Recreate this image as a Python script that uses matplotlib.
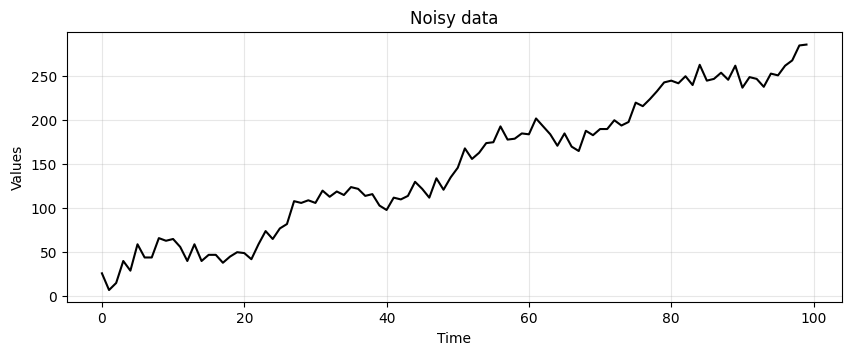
import matplotlib
matplotlib.use("Agg")
import matplotlib.pyplot as plt
import numpy as np

time = list(range(100))
values = [26, 7, 15, 40, 29, 59, 44, 44, 66, 63,
          65, 56, 40, 59, 40, 47, 47, 38, 45, 50,
          49, 42, 59, 74, 65, 77, 82, 108, 106, 109,
          106, 120, 113, 119, 115, 124, 122, 114, 116, 103,
          98, 112, 110, 114, 130, 122, 112, 134, 121, 135,
          146, 168, 156, 163, 174, 175, 193, 178, 179, 185,
          184, 202, 193, 184, 171, 185, 170, 165, 188, 183,
          190, 190, 200, 194, 198, 220, 216, 224, 233, 243,
          245, 242, 250, 240, 263, 245, 247, 254, 246, 262,
          237, 249, 247, 238, 253, 251, 262, 268, 285, 286]

fig = plt.figure(figsize=(8.5, 3.55), dpi=100)
ax = fig.add_axes([66.7/850, 1-302.3/355, (841.7-66.7)/850, (302.3-32.3)/355])
ax.plot(time, values, color='black', linewidth=1.5)
ax.set_title('Noisy data')
ax.set_xlabel('Time')
ax.set_ylabel('Values')
ax.grid(True, alpha=0.3)
fig.savefig('out.png', dpi=100)
